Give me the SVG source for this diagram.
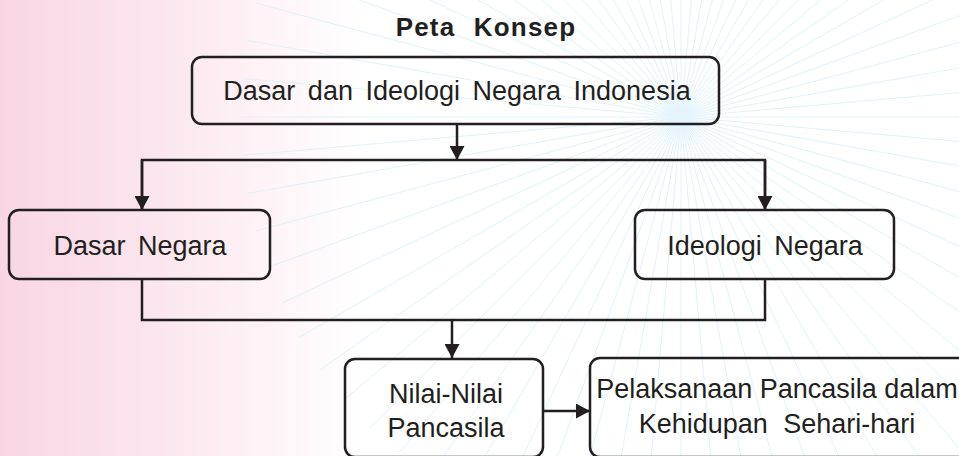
<svg xmlns="http://www.w3.org/2000/svg" width="959" height="456" viewBox="0 0 959 456">
<defs>
<linearGradient id="pink" x1="0" y1="0" x2="959" y2="0" gradientUnits="userSpaceOnUse">
<stop offset="0" stop-color="#f9d6e4"/>
<stop offset="0.15" stop-color="#fbe4ed"/>
<stop offset="0.3" stop-color="#fef6f9"/>
<stop offset="0.38" stop-color="#ffffff"/>
<stop offset="1" stop-color="#ffffff"/>
</linearGradient>
<radialGradient id="glow" cx="681" cy="117" r="30" gradientUnits="userSpaceOnUse">
<stop offset="0" stop-color="#e6f5fb"/>
<stop offset="1" stop-color="#e6f5fb" stop-opacity="0"/>
</radialGradient>
<marker id="arr" viewBox="0 0 14 15" refX="14" refY="7.5" markerWidth="14" markerHeight="15" markerUnits="userSpaceOnUse" orient="auto">
<path d="M0,0 L14,7.5 L0,15 Z" fill="#231f20"/>
</marker>
<style>
.box{fill:none;stroke:#231f20;stroke-width:2.5}
.t{font-family:"Liberation Sans",Arial,sans-serif;font-size:27px;fill:#231f20;word-spacing:5px}
.c{fill:none;stroke:#231f20;stroke-width:2.5}
.ttl{font-family:"Liberation Sans",Arial,sans-serif;font-size:26px;font-weight:bold;fill:#231f20;letter-spacing:1.2px;word-spacing:10px}
</style>
</defs>
<rect x="0" y="0" width="959" height="456" fill="url(#pink)"/>
<path fill="none" stroke="#dcf0f8" stroke-width="0.9" d="M241 117 L1121 117 M242.7 78.6 L1119.3 155.4 M247.7 40.6 L1114.3 193.4 M256 3.1 L1106 230.9 M267.5 -33.5 L1094.5 267.5 M282.2 -68.9 L1079.8 302.9 M299.9 -103 L1062.1 337 M320.6 -135.4 L1041.4 369.4 M344 -165.8 L1018 399.8 M369.9 -194.1 L992.1 428.1 M398.2 -220 L963.8 454 M428.6 -243.4 L933.4 477.4 M461 -264.1 L901 498.1 M495.1 -281.8 L866.9 515.8 M530.5 -296.5 L831.5 530.5 M567.1 -308 L794.9 542 M604.6 -316.3 L757.4 550.3 M642.6 -321.3 L719.4 555.3 M681 -323 L681 557 M719.4 -321.3 L642.6 555.3 M757.4 -316.3 L604.6 550.3 M794.9 -308 L567.1 542 M831.5 -296.5 L530.5 530.5 M866.9 -281.8 L495.1 515.8 M901 -264.1 L461 498.1 M933.4 -243.4 L428.6 477.4 M963.8 -220 L398.2 454 M992.1 -194.1 L369.9 428.1 M1018 -165.8 L344 399.8 M1041.4 -135.4 L320.6 369.4 M1062.1 -103 L299.9 337 M1079.8 -68.9 L282.2 302.9 M1094.5 -33.5 L267.5 267.5 M1106 3.1 L256 230.9 M1114.3 40.6 L247.7 193.4 M1119.3 78.6 L242.7 155.4"/>
<circle cx="681" cy="117" r="30" fill="url(#glow)"/>
<text class="ttl" x="486" y="36" text-anchor="middle">Peta Konsep</text>
<g id="connectors">
<path class="c" d="M457 124 V160" marker-end="url(#arr)"/>
<path class="c" d="M142 210 V160 H765 V210"/>
<path class="c" d="M142 160 V210" marker-end="url(#arr)"/>
<path class="c" d="M765 160 V210" marker-end="url(#arr)"/>
<path class="c" d="M142 279 V320 H765 V279"/>
<path class="c" d="M452 320 V358" marker-end="url(#arr)"/>
<path class="c" d="M543 411 H590" marker-end="url(#arr)"/>
</g>
<g id="node-dasar-ideologi">
<rect class="box" x="192" y="57" width="527" height="67" rx="10"/>
<text class="t" x="457" y="100" text-anchor="middle">Dasar dan Ideologi Negara Indonesia</text>
</g>
<g id="node-dasar-negara">
<rect class="box" x="9" y="210" width="261" height="69" rx="10"/>
<text class="t" x="140" y="255" text-anchor="middle">Dasar Negara</text>
</g>
<g id="node-ideologi-negara">
<rect class="box" x="635" y="210" width="259" height="69" rx="10"/>
<text class="t" x="765" y="255" text-anchor="middle">Ideologi Negara</text>
</g>
<g id="node-nilai">
<rect class="box" x="345" y="359" width="198" height="98" rx="10"/>
<text class="t" x="446" y="403" text-anchor="middle">Nilai-Nilai</text>
<text class="t" x="446" y="437" text-anchor="middle">Pancasila</text>
</g>
<g id="node-pelaksanaan">
<rect class="box" x="590" y="358" width="400" height="99" rx="10"/>
<text class="t" x="777" y="398" text-anchor="middle" style="word-spacing:0">Pelaksanaan Pancasila dalam</text>
<text class="t" x="777" y="433" text-anchor="middle" style="word-spacing:8px">Kehidupan Sehari-hari</text>
</g>
</svg>
